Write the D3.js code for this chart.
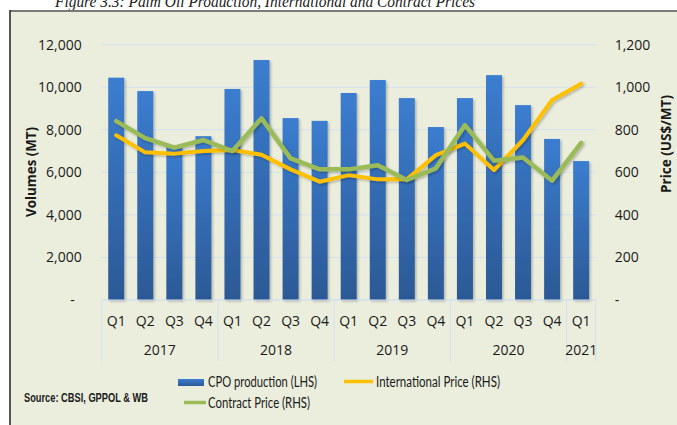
<!DOCTYPE html>
<html>
<head>
<meta charset="utf-8">
<script src="https://cdn.jsdelivr.net/npm/d3@7"></script>
<style>
  body { margin: 0; background: #fff; }
  text { font-family: "Open Sans", "Noto Sans", sans-serif; fill: #1a1a1a; }
</style>
</head>
<body>
<div id="chart"></div>
<script>
// chart values
var quarters = ["Q1", "Q2", "Q3", "Q4", "Q1", "Q2", "Q3", "Q4", "Q1", "Q2", "Q3", "Q4",
                "Q1", "Q2", "Q3", "Q4", "Q1"];
var years = ["2017", "2018", "2019", "2020", "2021"];
var cpoProduction = [10450, 9820, 7200, 7700, 9920, 11280, 8550, 8420, 9730, 10340, 9490, 8130,
                     9490, 10570, 9160, 7570, 6530];
var internationalPrice = [774, 694, 688, 700, 705, 683, 614, 556, 587, 567, 567, 681,
                          735, 611, 752, 940, 1017];
var contractPrice = [841, 761, 716, 752, 700, 854, 666, 614, 614, 633, 564, 619,
                     822, 655, 670, 561, 739];
var leftTicks = [0, 2000, 4000, 6000, 8000, 10000, 12000];
var rightTicks = [0, 200, 400, 600, 800, 1000, 1200];

var svgWidth = 677;
var svgHeight = 425;

var svg = d3.select("#chart")
  .append("svg")
  .attr("width", svgWidth)
  .attr("height", svgHeight);

// gradient for the bars
var defs = svg.append("defs");
var grad = defs.append("linearGradient")
  .attr("id", "barGrad")
  .attr("x1", 0).attr("y1", 0).attr("x2", 0).attr("y2", 1);
grad.append("stop").attr("offset", "0%").attr("stop-color", "#3b7dd0");
grad.append("stop").attr("offset", "100%").attr("stop-color", "#2c5995");

var shadow = defs.append("filter").attr("id", "shadow")
  .attr("x", "-20%").attr("y", "-20%").attr("width", "150%").attr("height", "150%");
shadow.append("feDropShadow")
  .attr("dx", 1.5).attr("dy", 1.5).attr("stdDeviation", 1.2)
  .attr("flood-color", "#000").attr("flood-opacity", 0.25);

// cut-off figure title above the frame
svg.append("text")
  .attr("x", 55)
  .attr("y", 7)
  .attr("textLength", 420)
  .attr("lengthAdjust", "spacingAndGlyphs")
  .style("font-family", "'Liberation Serif', 'DejaVu Serif', serif")
  .style("font-style", "italic")
  .style("font-size", "17px")
  .text("Figure 3.3: Palm Oil Production, International and Contract Prices");

// chart frame
svg.append("rect")
  .attr("x", 10)
  .attr("y", 11)
  .attr("width", svgWidth)
  .attr("height", svgHeight)
  .attr("fill", "#ebeedd");
svg.append("line")
  .attr("x1", 10).attr("x2", svgWidth)
  .attr("y1", 11).attr("y2", 11)
  .attr("stroke", "#7a7a7a").attr("stroke-width", 2);
svg.append("line")
  .attr("x1", 10).attr("x2", 10)
  .attr("y1", 10).attr("y2", svgHeight)
  .attr("stroke", "#222").attr("stroke-width", 1.5);

// scales
var plotLeft = 101.7, plotRight = 595.7, plotTop = 44.7, plotBottom = 300;

var x = d3.scaleBand()
  .domain(d3.range(quarters.length))
  .range([plotLeft, plotRight])
  .paddingInner(0.45)
  .paddingOuter(0.225);

var yLeft = d3.scaleLinear().domain([0, 12000]).range([plotBottom, plotTop]);
var yRight = d3.scaleLinear().domain([0, 1200]).range([plotBottom, plotTop]);

// gridlines
svg.append("g")
  .selectAll("line")
  .data(leftTicks)
  .enter()
  .append("line")
  .attr("x1", plotLeft).attr("x2", plotRight)
  .attr("y1", d => yLeft(d)).attr("y2", d => yLeft(d))
  .attr("stroke", "#d3e0ef").attr("stroke-width", 1);

// left axis
var leftAxis = d3.axisLeft(yLeft)
  .tickValues(leftTicks)
  .tickSize(0)
  .tickPadding(20)
  .tickFormat(d => d === 0 ? "-" : d3.format(",")(d));
var gl = svg.append("g")
  .attr("transform", `translate(${plotLeft}, 0)`)
  .call(leftAxis);
gl.select(".domain").remove();
gl.selectAll("text").style("font-size", "14px").style("font-family", "'Open Sans', sans-serif").attr("fill", "#1a1a1a");
gl.selectAll(".tick text").filter(d => d === 0).attr("dx", "-7");

// right axis
var rightAxis = d3.axisRight(yRight)
  .tickValues(rightTicks)
  .tickSize(0)
  .tickPadding(19)
  .tickFormat(d => d === 0 ? "-" : d3.format(",")(d));
var gr = svg.append("g")
  .attr("transform", `translate(${plotRight}, 0)`)
  .call(rightAxis);
gr.select(".domain").remove();
gr.selectAll("text").style("font-size", "14px").style("font-family", "'Open Sans', sans-serif").attr("fill", "#1a1a1a");

// axis titles
svg.append("text")
  .attr("transform", "translate(36, 172) rotate(-90)")
  .attr("text-anchor", "middle")
  .attr("textLength", 90)
  .attr("lengthAdjust", "spacingAndGlyphs")
  .style("font-size", "14px")
  .style("font-weight", "bold")
  .text("Volumes (MT)");

svg.append("text")
  .attr("transform", "translate(671, 144) rotate(-90)")
  .attr("text-anchor", "middle")
  .attr("textLength", 98)
  .attr("lengthAdjust", "spacingAndGlyphs")
  .style("font-size", "14px")
  .style("font-weight", "bold")
  .text("Price (US$/MT)");

// bars
svg.append("g")
  .selectAll("rect")
  .data(cpoProduction)
  .enter()
  .append("rect")
  .attr("x", (d, i) => x(i))
  .attr("y", d => yLeft(d))
  .attr("width", x.bandwidth())
  .attr("height", d => plotBottom - yLeft(d))
  .attr("fill", "url(#barGrad)")
  .attr("filter", "url(#shadow)");

// category axis
svg.append("line")
  .attr("x1", plotLeft).attr("x2", plotRight)
  .attr("y1", plotBottom).attr("y2", plotBottom)
  .attr("stroke", "#d3e0ef");

var step = x.step();
var catStart = plotLeft;
var yearEdges = [0, 4, 8, 12, 16, 17];
svg.append("g")
  .selectAll("line")
  .data(yearEdges)
  .enter()
  .append("line")
  .attr("x1", d => catStart + d * step).attr("x2", d => catStart + d * step)
  .attr("y1", plotBottom).attr("y2", 361)
  .attr("stroke", "#d3e0ef");

svg.append("g")
  .selectAll("text")
  .data(quarters)
  .enter()
  .append("text")
  .attr("x", (d, i) => x(i) + x.bandwidth() / 2)
  .attr("y", 326)
  .attr("text-anchor", "middle")
  .style("font-size", "14px")
  .text(d => d);

svg.append("g")
  .selectAll("text")
  .data(years)
  .enter()
  .append("text")
  .attr("x", (d, i) => catStart + (yearEdges[i] + yearEdges[i + 1]) / 2 * step)
  .attr("y", 355)
  .attr("text-anchor", "middle")
  .style("font-size", "14px")
  .text(d => d);

// price lines
var lineRight = d3.line()
  .x((d, i) => x(i) + x.bandwidth() / 2)
  .y(d => yRight(d));

svg.append("path")
  .datum(internationalPrice)
  .attr("d", lineRight)
  .attr("fill", "none")
  .attr("stroke", "#ffc000")
  .attr("stroke-width", 4)
  .attr("stroke-linejoin", "round")
  .attr("stroke-linecap", "round")
  .attr("filter", "url(#shadow)");

svg.append("path")
  .datum(contractPrice)
  .attr("d", lineRight)
  .attr("fill", "none")
  .attr("stroke", "#9bbb59")
  .attr("stroke-width", 4.5)
  .attr("stroke-linejoin", "round")
  .attr("stroke-linecap", "round")
  .attr("filter", "url(#shadow)");

// legend
var legend = svg.append("g");
legend.append("rect")
  .attr("x", 178).attr("y", 379)
  .attr("width", 26).attr("height", 7)
  .attr("fill", "url(#barGrad)");
legend.append("text")
  .attr("x", 208).attr("y", 387)
  .attr("textLength", 109)
  .attr("lengthAdjust", "spacingAndGlyphs")
  .style("font-family", "Lato, 'Open Sans', sans-serif")
  .style("font-size", "14.5px")
  .text("CPO production (LHS)");

legend.append("line")
  .attr("x1", 344).attr("x2", 373)
  .attr("y1", 381.5).attr("y2", 381.5)
  .attr("stroke", "#ffc000").attr("stroke-width", 3.5);
legend.append("text")
  .attr("x", 376).attr("y", 387)
  .attr("textLength", 124)
  .attr("lengthAdjust", "spacingAndGlyphs")
  .style("font-family", "Lato, 'Open Sans', sans-serif")
  .style("font-size", "14.5px")
  .text("International Price (RHS)");

legend.append("line")
  .attr("x1", 184).attr("x2", 206)
  .attr("y1", 402.5).attr("y2", 402.5)
  .attr("stroke", "#9bbb59").attr("stroke-width", 3.5);
legend.append("text")
  .attr("x", 208).attr("y", 408)
  .attr("textLength", 102)
  .attr("lengthAdjust", "spacingAndGlyphs")
  .style("font-family", "Lato, 'Open Sans', sans-serif")
  .style("font-size", "14.5px")
  .text("Contract Price (RHS)");

// source note
svg.append("text")
  .attr("x", 24).attr("y", 402)
  .attr("textLength", 124)
  .attr("lengthAdjust", "spacingAndGlyphs")
  .style("font-family", "'Liberation Sans', Arial, sans-serif")
  .style("font-size", "13px")
  .style("font-weight", "bold")
  .text("Source: CBSI, GPPOL & WB");
</script>
</body>
</html>
